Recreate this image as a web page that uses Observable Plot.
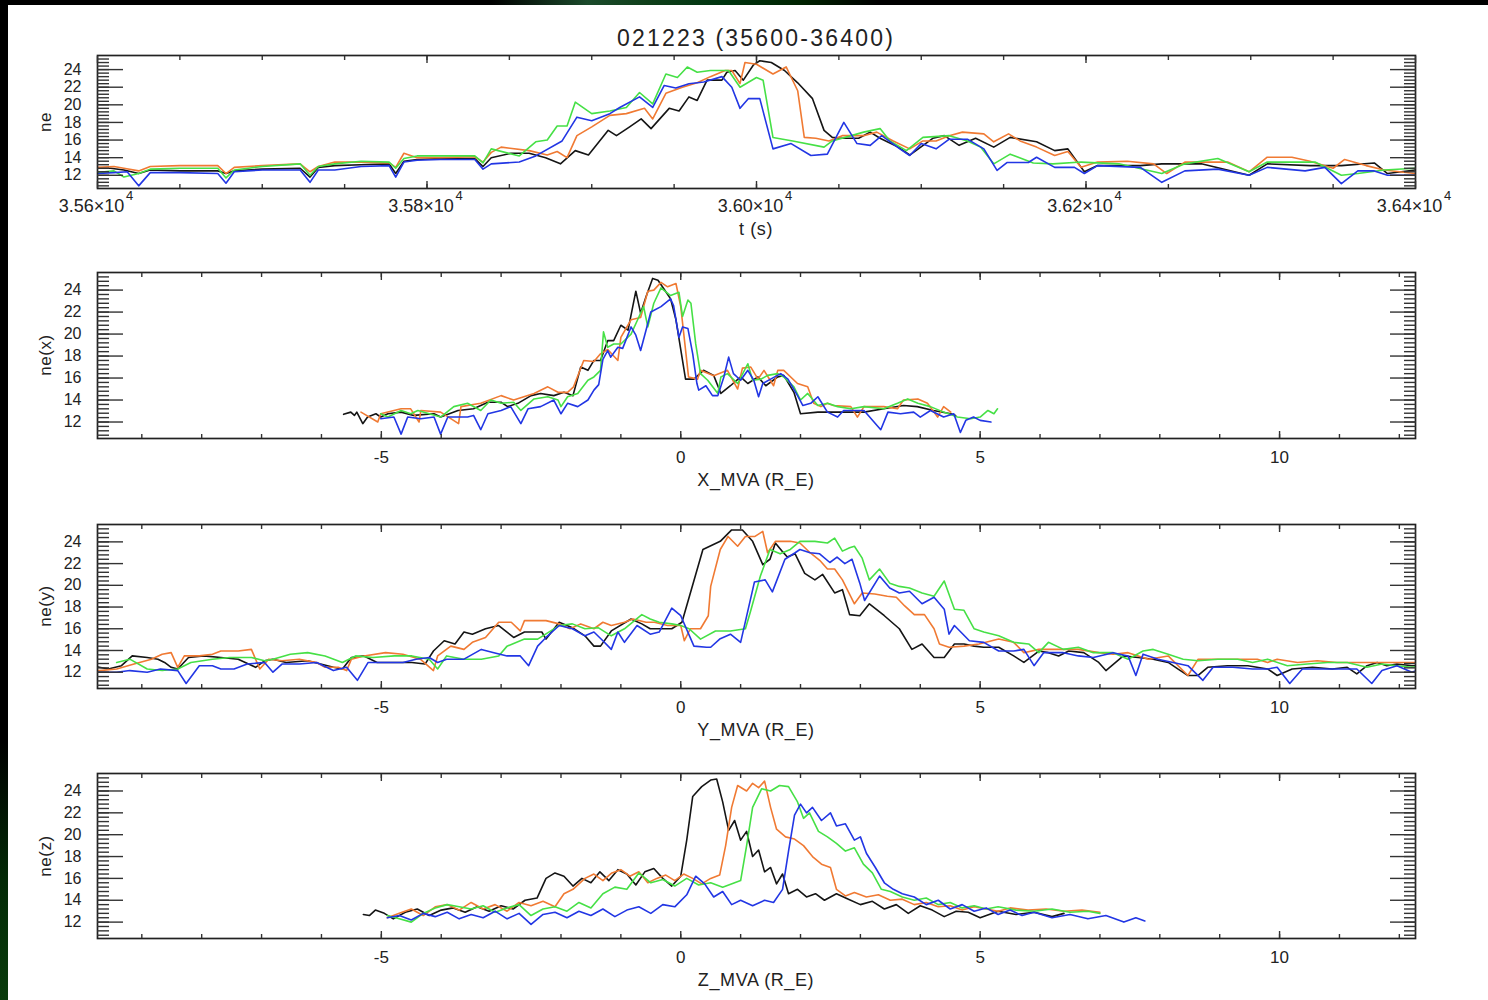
<!DOCTYPE html>
<html><head><meta charset="utf-8">
<script src="https://cdn.jsdelivr.net/npm/d3@7"></script>
<script src="https://cdn.jsdelivr.net/npm/@observablehq/plot@0.6"></script>
<style>
html,body{margin:0;padding:0;background:#fff;}
body{width:1488px;height:1000px;position:relative;overflow:hidden;font-family:"Liberation Sans",Arial,Helvetica,sans-serif;color:#222;}
#topband{position:absolute;left:0;top:0;width:1488px;height:5px;
 background:linear-gradient(to right,#000 0%,#000 33%,#1b4a2b 39.5%,#0f3f1a 43.5%,#003510 48.5%,#002200 54%,#000 59%,#000 100%);}
#leftband{position:absolute;left:0;top:0;width:8px;height:1000px;
 background:linear-gradient(to bottom,#000 0%,#000 74%,#032a06 88%,#0a3c0c 100%);}
.panel{position:absolute;left:0;}
.xt{position:absolute;transform:translate(-50%,-50%);white-space:nowrap;font-size:18px;letter-spacing:0.6px;}
.yt{position:absolute;transform:translate(-50%,-50%) rotate(-90deg);white-space:nowrap;font-size:17px;letter-spacing:0.6px;}
#title{position:absolute;left:756px;top:38px;transform:translate(-50%,-50%);font-size:23px;letter-spacing:2.2px;white-space:nowrap;}
</style></head>
<body>
<div id="topband"></div><div id="leftband"></div>
<div id="title">021223 (35600-36400)</div>
<script>
// ---------- tick values / labels ----------
const yMajor = [12, 14, 16, 18, 20, 22, 24];
const yDomain = [10.5, 25.6];
const tMajor = [35600, 35800, 36000, 36200, 36400];
const tLabels = ["3.56×10", "3.58×10", "3.60×10", "3.62×10", "3.64×10"];
const tExponent = "4";
const mvaMajor = [-5, 0, 5, 10];
const mvaLabels = ["-5", "0", "5", "10"];
const mvaDomain = [-9.74, 12.27];
const tDomain = [35600, 36400];
const panelTitles = ["ne", "ne(x)", "ne(y)", "ne(z)"];
const axisTitles = ["t (s)", "X_MVA (R_E)", "Y_MVA (R_E)", "Z_MVA (R_E)"];
const spacecraftColors = ["#151515", "#f07a33", "#46e046", "#2236e4"];

// ---------- panel 1: ne vs t ----------
const p1Black = [[35600,12.8],[35608,12.8],[35616,12.6],[35625,12.2],[35632,12.6],[35650,12.5],[35673,12.5],[35678,12.2],[35683,12.5],[35700,12.7],[35723,12.8],[35729,11.8],[35734,12.9],[35744,13.1],[35760,13.2],[35777,13.3],[35781,12.2],[35786,13.6],[35794,13.8],[35808,13.9],[35829,13.9],[35834,13.0],[35839,14.0],[35851,14.5],[35862,14.5],[35872,14.0],[35881,13.3],[35890,14.8],[35898,14.3],[35910,17.1],[35915,16.5],[35923,17.5],[35930,18.4],[35936,17.3],[35947,19.6],[35953,19.3],[35959,20.9],[35964,20.5],[35970,22.8],[35979,22.8],[35982,23.7],[35987,23.9],[35992,22.8],[35998,24.5],[36002,25.0],[36009,24.8],[36017,23.9],[36025,22.5],[36034,20.7],[36041,17.1],[36046,16.3],[36051,16.2],[36062,16.2],[36069,16.9],[36075,16.2],[36086,15.2],[36093,14.3],[36107,16.2],[36114,16.5],[36123,15.4],[36133,16.2],[36144,15.2],[36154,16.3],[36170,15.8],[36181,14.8],[36189,15.0],[36199,12.4],[36207,13.1],[36233,13.1],[36246,13.3],[36270,13.3],[36299,12.0],[36310,13.3],[36336,13.1],[36355,13.1],[36375,13.4],[36383,12.2],[36400,12.6]];
const p1Orange = [[35600,12.9],[35610,13.0],[35616,12.8],[35625,12.5],[35632,13.0],[35650,13.1],[35673,13.1],[35678,12.2],[35683,12.9],[35700,13.1],[35723,13.3],[35729,12.4],[35734,13.0],[35744,13.5],[35760,13.5],[35777,13.4],[35781,12.9],[35786,14.5],[35794,14.0],[35808,14.0],[35829,14.1],[35834,13.5],[35839,14.6],[35845,15.2],[35862,14.8],[35873,14.3],[35879,14.7],[35885,14.0],[35891,16.5],[35900,17.5],[35911,18.8],[35921,19.0],[35932,19.6],[35937,18.4],[35945,21.3],[35955,22.0],[35964,22.5],[35972,23.2],[35981,23.9],[35985,23.9],[35990,22.4],[35993,24.8],[36000,24.6],[36010,23.5],[36018,24.3],[36025,21.6],[36029,16.3],[36036,16.2],[36044,15.9],[36052,16.5],[36065,16.5],[36073,16.9],[36083,15.9],[36093,15.0],[36101,15.9],[36109,15.9],[36117,16.5],[36125,16.9],[36138,16.7],[36144,15.8],[36153,16.7],[36160,15.9],[36170,15.2],[36181,14.25],[36189,14.7],[36197,12.9],[36207,13.5],[36225,13.6],[36241,13.3],[36249,12.2],[36260,13.5],[36286,13.5],[36299,12.4],[36310,14.05],[36325,14.05],[36336,13.6],[36350,12.8],[36357,13.8],[36370,13.1],[36381,12.6],[36400,12.2]];
const p1Green = [[35600,12.3],[35610,12.5],[35616,11.8],[35625,12.2],[35632,12.7],[35650,12.8],[35673,12.8],[35678,11.7],[35683,12.6],[35700,13.0],[35723,13.3],[35729,12.0],[35734,13.0],[35744,13.3],[35760,13.6],[35777,13.5],[35781,12.8],[35786,13.9],[35794,14.2],[35808,14.2],[35829,14.2],[35834,13.4],[35839,15.0],[35856,14.2],[35866,15.8],[35873,16.0],[35879,17.6],[35885,17.6],[35890,20.3],[35900,19.0],[35911,19.3],[35921,19.7],[35929,21.4],[35937,20.1],[35945,23.5],[35952,23.1],[35958,24.3],[35964,23.7],[35972,23.9],[35983,23.9],[35990,22.0],[36000,23.1],[36004,22.8],[36010,16.3],[36022,15.9],[36041,15.2],[36046,15.9],[36065,16.9],[36075,17.3],[36081,15.9],[36091,14.8],[36101,16.3],[36117,16.5],[36128,15.9],[36136,15.2],[36144,13.3],[36154,14.4],[36168,13.4],[36180,13.3],[36197,13.5],[36220,13.3],[36246,12.2],[36260,13.3],[36280,13.9],[36299,12.4],[36310,13.5],[36339,13.5],[36355,12.0],[36365,12.2],[36381,12.6],[36400,12.8]];
const p1Blue = [[35600,12.2],[35610,12.3],[35618,12.4],[35625,10.8],[35632,12.3],[35650,12.3],[35673,12.2],[35678,11.1],[35683,12.4],[35700,12.6],[35723,12.6],[35729,11.2],[35734,12.6],[35744,12.6],[35760,13.0],[35777,13.1],[35781,11.8],[35786,13.5],[35794,13.7],[35808,13.8],[35829,13.8],[35834,12.7],[35839,13.3],[35856,13.5],[35866,14.2],[35882,15.9],[35891,18.6],[35900,18.2],[35911,19.0],[35917,19.7],[35929,20.9],[35937,19.7],[35944,22.2],[35951,21.9],[35959,22.4],[35968,22.6],[35979,23.2],[35985,22.0],[35990,19.6],[35995,20.7],[36002,20.7],[36010,15.0],[36021,15.6],[36033,14.25],[36043,14.4],[36053,18.0],[36061,15.6],[36069,15.4],[36076,16.5],[36087,15.0],[36093,14.25],[36100,15.6],[36109,15.0],[36117,16.1],[36128,16.1],[36138,15.0],[36146,12.55],[36152,13.45],[36165,13.45],[36170,14.05],[36181,12.9],[36193,12.9],[36199,12.2],[36207,13.1],[36233,12.9],[36246,11.2],[36260,12.5],[36280,12.7],[36299,12.0],[36310,12.9],[36333,12.5],[36345,12.9],[36355,11.05],[36365,12.5],[36375,12.5],[36383,12.0],[36400,12.0]];

// ---------- panel 2: ne vs X_MVA ----------
const p2Black = [[-5.63,12.7],[-5.51,12.9],[-5.45,12.6],[-5.41,12.9],[-5.31,11.85],[-5.23,12.45],[-5.09,12.75],[-5.01,12.45],[-4.89,12.75],[-4.67,12.9],[-4.46,12.6],[-4.12,12.75],[-4.01,12.45],[-3.72,13.05],[-3.46,13.2],[-3.22,13.8],[-3.0,13.8],[-2.89,13.4],[-2.72,13.7],[-2.5,14.4],[-2.34,14.6],[-2.12,14.4],[-1.95,14.7],[-1.8,14.4],[-1.67,17.0],[-1.55,16.7],[-1.45,17.6],[-1.34,17.6],[-1.22,19.4],[-1.12,19.4],[-1.0,20.8],[-0.88,20.35],[-0.75,23.9],[-0.67,21.9],[-0.58,23.4],[-0.47,25.06],[-0.38,24.9],[-0.28,24.1],[-0.17,23.2],[-0.08,21.3],[0.08,15.9],[0.22,15.9],[0.38,16.7],[0.55,16.24],[0.67,14.6],[0.83,15.3],[1.0,16.1],[1.12,15.5],[1.29,16.1],[1.42,15.3],[1.62,16.1],[1.72,16.24],[1.89,14.7],[2.0,12.75],[2.29,12.9],[2.67,12.9],[3.06,12.9],[3.39,13.2],[3.72,13.5],[3.95,13.4],[4.22,13.05],[4.51,12.75],[4.59,12.6]];
const p2Orange = [[-5.34,12.9],[-5.06,12.0],[-5.01,12.75],[-4.67,13.2],[-4.51,13.2],[-4.37,12.0],[-4.34,13.05],[-4.01,12.9],[-3.71,11.85],[-3.67,13.4],[-3.34,13.7],[-3.0,14.4],[-2.79,14.0],[-2.45,14.6],[-2.22,15.2],[-2.05,14.7],[-1.89,14.7],[-1.79,15.2],[-1.62,17.6],[-1.45,17.5],[-1.34,18.2],[-1.22,18.6],[-1.05,17.6],[-1.0,19.7],[-0.83,21.3],[-0.67,21.5],[-0.55,23.9],[-0.45,24.0],[-0.33,24.7],[-0.22,24.3],[-0.08,24.6],[0.0,22.5],[0.13,16.1],[0.28,15.9],[0.33,16.7],[0.55,16.2],[0.78,16.7],[0.95,15.0],[1.03,16.9],[1.17,17.0],[1.29,15.9],[1.39,16.7],[1.55,15.3],[1.62,16.7],[1.72,16.7],[1.95,15.5],[2.12,15.2],[2.22,13.7],[2.34,13.4],[2.45,13.7],[2.55,13.5],[2.84,13.4],[2.95,12.45],[3.06,13.4],[3.39,13.4],[3.62,13.2],[3.72,14.0],[3.96,14.1],[4.12,13.7],[4.29,12.45],[4.39,13.4],[4.51,12.9]];
const p2Green = [[-5.01,12.75],[-4.89,12.45],[-4.67,13.05],[-4.51,12.75],[-4.39,13.05],[-4.01,12.45],[-3.79,13.4],[-3.56,13.7],[-3.34,13.05],[-3.17,14.0],[-3.0,13.7],[-2.79,13.8],[-2.67,13.05],[-2.45,14.1],[-2.22,14.3],[-2.05,14.0],[-2.0,13.4],[-1.89,14.3],[-1.72,14.6],[-1.55,15.8],[-1.45,16.1],[-1.34,16.7],[-1.29,20.2],[-1.22,18.8],[-1.12,19.1],[-1.0,19.1],[-0.83,20.0],[-0.72,21.3],[-0.62,22.5],[-0.55,20.65],[-0.45,22.8],[-0.33,24.2],[-0.17,23.5],[-0.03,23.8],[0.03,21.6],[0.12,23.1],[0.17,22.8],[0.25,19.1],[0.33,16.4],[0.45,15.8],[0.62,14.6],[0.67,16.1],[0.78,16.4],[0.95,15.5],[1.12,17.3],[1.2,15.8],[1.34,15.9],[1.45,16.24],[1.62,16.4],[1.72,16.1],[1.89,15.2],[2.0,14.0],[2.12,14.6],[2.29,13.5],[2.45,13.7],[2.62,13.4],[2.84,13.2],[3.06,13.4],[3.39,13.2],[3.62,13.7],[3.79,14.1],[3.96,13.7],[4.17,13.4],[4.39,12.9],[4.62,12.45],[4.84,12.3],[5.0,12.45],[5.13,13.05],[5.23,12.75],[5.29,13.2]];
const p2Blue = [[-5.01,12.3],[-4.79,12.45],[-4.67,10.9],[-4.56,12.45],[-4.34,12.3],[-4.12,12.45],[-4.01,10.9],[-3.89,12.45],[-3.56,12.45],[-3.46,12.6],[-3.34,11.3],[-3.22,12.75],[-3.0,13.05],[-2.84,13.4],[-2.67,11.85],[-2.55,13.2],[-2.34,13.4],[-2.12,14.0],[-2.0,12.75],[-1.89,13.7],[-1.72,13.4],[-1.55,14.0],[-1.45,14.9],[-1.37,15.4],[-1.3,17.7],[-1.22,18.5],[-1.17,17.9],[-1.05,18.8],[-0.97,18.7],[-0.83,20.65],[-0.75,19.9],[-0.67,18.5],[-0.58,20.35],[-0.5,22.0],[-0.33,22.5],[-0.17,23.2],[-0.12,22.6],[-0.03,19.7],[0.03,20.65],[0.12,20.5],[0.2,18.2],[0.27,15.5],[0.3,14.9],[0.42,15.3],[0.53,14.4],[0.62,14.4],[0.72,16.1],[0.8,17.9],[0.88,16.4],[1.0,15.8],[1.12,16.7],[1.22,15.8],[1.3,14.3],[1.37,15.5],[1.5,15.9],[1.67,16.4],[1.79,15.9],[1.95,14.4],[2.04,13.5],[2.17,13.7],[2.29,14.3],[2.45,12.9],[2.62,12.45],[2.72,13.05],[3.06,13.05],[3.34,11.3],[3.46,12.9],[3.67,12.75],[3.89,12.9],[4.0,12.45],[4.17,13.05],[4.39,12.45],[4.56,12.75],[4.67,11.05],[4.76,12.15],[4.89,12.45],[5.0,12.15],[5.18,12.0]];

// ---------- panel 3: ne vs Y_MVA ----------
const p3Black = [[-9.85,12.6],[-9.71,12.45],[-9.56,12.3],[-9.34,12.6],[-9.16,13.5],[-8.91,13.35],[-8.73,13.2],[-8.62,12.9],[-8.51,12.45],[-8.4,12.3],[-8.22,13.35],[-7.97,13.5],[-7.68,13.35],[-7.39,13.2],[-7.1,12.45],[-6.95,13.05],[-6.81,13.2],[-6.59,12.9],[-6.23,13.05],[-5.8,12.45],[-5.65,12.3],[-5.5,13.35],[-5.29,13.5],[-5.07,12.9],[-4.78,12.9],[-4.49,12.9],[-4.27,12.75],[-4.13,13.95],[-3.95,14.9],[-3.77,14.6],[-3.62,15.7],[-3.48,15.5],[-3.26,16.0],[-3.04,16.3],[-2.79,15.2],[-2.61,15.7],[-2.32,15.7],[-2.25,15.05],[-2.03,16.6],[-1.81,16.1],[-1.6,15.35],[-1.45,14.4],[-1.34,14.4],[-1.16,15.8],[-0.83,16.9],[-0.65,16.45],[-0.51,16.0],[-0.15,16.0],[0.02,16.6],[0.37,23.3],[0.66,24.05],[0.85,25.1],[1.03,25.1],[1.2,24.05],[1.37,21.9],[1.49,22.4],[1.58,23.9],[1.7,23.1],[1.78,22.6],[1.91,22.9],[2.07,21.1],[2.24,20.5],[2.37,21.0],[2.57,19.3],[2.7,19.6],[2.82,17.3],[2.99,17.2],[3.15,18.3],[3.4,17.2],[3.65,16.0],[3.86,14.1],[4.03,14.6],[4.23,13.35],[4.4,13.35],[4.57,14.6],[4.73,14.6],[4.9,14.4],[5.06,14.3],[5.31,14.3],[5.56,13.5],[5.73,12.9],[5.98,13.95],[6.14,13.8],[6.31,13.5],[6.48,13.95],[6.73,13.8],[6.98,12.9],[7.1,12.15],[7.39,13.5],[7.64,13.35],[7.89,13.2],[8.14,12.9],[8.3,12.3],[8.47,11.7],[8.64,11.7],[8.8,12.45],[9.13,12.6],[9.47,12.6],[9.8,12.3],[9.96,11.7],[10.21,12.3],[10.55,12.45],[10.88,12.3],[11.13,12.45],[11.29,11.85],[11.46,12.6],[11.63,12.9],[11.79,12.6],[11.96,12.75],[12.21,12.6],[12.35,12.6]];
const p3Orange = [[-9.85,12.2],[-9.71,12.15],[-9.42,12.3],[-9.13,12.75],[-8.84,13.2],[-8.66,13.66],[-8.51,13.8],[-8.4,12.45],[-8.29,13.5],[-8.04,13.5],[-7.82,13.66],[-7.68,13.95],[-7.39,13.95],[-7.17,14.1],[-7.03,12.3],[-6.88,13.2],[-6.66,13.05],[-6.37,13.2],[-6.08,12.9],[-5.94,12.45],[-5.72,12.45],[-5.58,12.15],[-5.5,13.2],[-5.29,13.5],[-4.93,13.8],[-4.64,13.66],[-4.35,13.2],[-4.13,12.15],[-4.06,13.5],[-3.84,14.4],[-3.62,14.1],[-3.48,14.75],[-3.26,15.2],[-3.04,16.6],[-2.83,16.6],[-2.68,15.8],[-2.61,16.75],[-2.25,16.75],[-2.03,16.45],[-1.85,16.0],[-1.67,16.45],[-1.45,16.0],[-1.3,16.6],[-1.16,16.3],[-0.94,16.6],[-0.8,16.9],[-0.58,16.6],[-0.44,16.6],[-0.22,16.3],[0.0,16.3],[0.06,14.9],[0.16,16.0],[0.33,16.0],[0.46,17.2],[0.5,19.9],[0.66,23.3],[0.79,24.5],[0.95,23.6],[1.08,24.5],[1.24,24.5],[1.37,24.96],[1.45,23.0],[1.58,24.05],[1.83,24.05],[1.99,23.9],[2.16,23.0],[2.32,22.3],[2.45,21.5],[2.57,21.5],[2.7,20.5],[2.9,18.3],[3.03,19.3],[3.24,19.2],[3.45,19.0],[3.6,18.9],[3.74,18.1],[3.9,17.3],[4.07,17.3],[4.23,16.0],[4.32,14.6],[4.48,14.3],[4.73,14.4],[4.98,14.6],[5.31,15.05],[5.56,14.75],[5.73,13.8],[5.98,14.1],[6.31,14.1],[6.64,14.1],[6.98,13.8],[7.22,13.66],[7.47,13.8],[7.81,13.2],[8.14,13.5],[8.47,11.7],[8.64,13.2],[8.97,13.2],[9.3,13.2],[9.63,13.2],[9.8,12.9],[9.96,13.2],[10.3,12.9],[10.63,13.05],[10.96,12.9],[11.29,12.9],[11.63,12.9],[11.96,12.9],[12.21,12.9],[12.35,12.9]];
const p3Green = [[-9.42,12.9],[-9.2,13.2],[-8.91,12.3],[-8.66,12.15],[-8.4,12.3],[-8.18,12.9],[-7.82,13.2],[-7.53,13.35],[-7.17,13.35],[-6.95,13.05],[-6.81,13.2],[-6.52,13.66],[-6.23,13.8],[-5.94,13.5],[-5.65,12.9],[-5.43,13.5],[-5.14,13.35],[-4.78,13.5],[-4.49,13.5],[-4.2,13.2],[-4.06,12.3],[-3.91,13.5],[-3.62,13.2],[-3.33,13.2],[-3.04,13.5],[-2.9,14.4],[-2.61,15.05],[-2.39,15.05],[-2.17,15.8],[-2.03,16.3],[-1.81,16.45],[-1.6,16.0],[-1.38,16.1],[-1.16,15.35],[-0.94,16.0],[-0.65,17.3],[-0.51,16.9],[-0.36,16.6],[-0.15,16.45],[0.0,16.3],[0.14,16.0],[0.33,15.05],[0.58,15.8],[0.83,15.8],[1.08,16.0],[1.16,17.5],[1.33,20.85],[1.49,23.3],[1.66,22.9],[1.83,23.3],[1.99,24.05],[2.24,24.05],[2.45,23.9],[2.57,24.35],[2.7,23.15],[2.82,23.45],[2.9,23.6],[3.03,22.5],[3.15,20.5],[3.32,21.5],[3.49,20.2],[3.65,19.9],[3.82,19.75],[4.03,19.3],[4.23,19.0],[4.4,20.4],[4.57,17.8],[4.73,17.7],[4.9,16.0],[5.06,15.7],[5.31,15.35],[5.56,14.75],[5.81,14.6],[5.98,13.8],[6.14,14.75],[6.39,14.1],[6.64,14.3],[6.89,13.8],[7.22,13.8],[7.47,13.2],[7.72,13.95],[7.89,14.1],[8.14,13.66],[8.39,13.2],[8.64,13.05],[8.97,13.2],[9.3,13.2],[9.55,12.9],[9.8,13.2],[10.13,12.6],[10.46,12.75],[10.8,12.9],[11.13,12.9],[11.46,12.45],[11.71,12.75],[11.96,12.6],[12.21,12.45],[12.35,12.6]];
const p3Blue = [[-9.85,12.0],[-9.71,12.0],[-9.42,12.0],[-9.2,12.15],[-8.91,12.0],[-8.69,12.3],[-8.4,12.15],[-8.26,10.96],[-8.04,12.6],[-7.82,12.6],[-7.68,12.3],[-7.46,12.3],[-7.24,12.75],[-6.95,12.9],[-6.81,12.0],[-6.66,12.75],[-6.37,12.75],[-6.08,12.9],[-5.8,12.15],[-5.58,12.45],[-5.4,11.25],[-5.22,12.9],[-4.78,12.9],[-4.64,12.9],[-4.42,13.2],[-4.2,13.35],[-4.06,12.9],[-3.91,13.2],[-3.62,13.2],[-3.33,14.1],[-3.12,13.8],[-2.9,13.5],[-2.68,13.5],[-2.54,12.6],[-2.39,14.4],[-2.25,15.2],[-2.03,16.3],[-1.81,16.0],[-1.6,15.35],[-1.45,15.7],[-1.3,14.9],[-1.16,14.1],[-1.05,15.7],[-0.94,14.75],[-0.73,16.3],[-0.51,15.5],[-0.36,15.7],[-0.15,17.9],[0.0,17.2],[0.22,14.4],[0.43,14.3],[0.5,14.3],[0.65,15.05],[0.83,15.5],[1.0,14.75],[1.23,20.3],[1.41,20.5],[1.53,19.4],[1.74,22.4],[1.91,23.0],[1.99,23.3],[2.16,23.0],[2.32,22.9],[2.49,22.1],[2.61,22.6],[2.74,22.0],[2.86,22.4],[2.99,20.2],[3.07,18.6],[3.32,20.85],[3.49,19.75],[3.65,19.3],[3.82,19.45],[4.03,18.3],[4.23,18.9],[4.4,17.8],[4.48,15.5],[4.57,16.3],[4.82,14.9],[5.06,14.75],[5.31,13.95],[5.56,13.95],[5.73,14.1],[5.9,12.6],[6.06,13.8],[6.39,13.8],[6.64,13.5],[6.89,13.35],[7.22,13.8],[7.47,13.5],[7.6,11.7],[7.72,13.66],[7.97,13.2],[8.22,12.9],[8.47,12.6],[8.72,11.25],[8.89,12.45],[9.22,12.45],[9.55,12.3],[9.8,12.3],[9.96,12.45],[10.17,10.96],[10.38,12.3],[10.71,12.3],[11.05,12.3],[11.29,12.3],[11.54,10.96],[11.71,12.15],[11.96,12.6],[12.21,12.0],[12.35,12.3]];

// ---------- panel 4: ne vs Z_MVA ----------
const p4Black = [[-5.3,12.7],[-5.2,12.6],[-5.1,13.1],[-4.95,12.8],[-4.8,12.3],[-4.6,12.9],[-4.4,13.2],[-4.2,12.6],[-4.0,13.1],[-3.8,13.3],[-3.6,12.9],[-3.4,13.4],[-3.2,13.0],[-3.0,13.5],[-2.8,13.2],[-2.6,14.0],[-2.4,14.2],[-2.25,16.0],[-2.1,16.5],[-1.95,16.2],[-1.8,15.3],[-1.65,16.0],[-1.5,15.6],[-1.35,16.6],[-1.2,15.8],[-1.05,16.8],[-0.9,16.4],[-0.75,15.4],[-0.6,16.6],[-0.45,16.9],[-0.3,16.0],[-0.15,15.3],[0.0,16.2],[0.1,19.5],[0.2,23.5],[0.35,24.4],[0.5,25.0],[0.6,25.1],[0.7,23.0],[0.8,20.4],[0.9,21.3],[1.0,19.5],[1.1,20.3],[1.2,18.0],[1.3,18.6],[1.4,16.6],[1.5,17.0],[1.6,15.5],[1.7,16.4],[1.8,14.6],[1.95,15.0],[2.1,14.3],[2.25,14.6],[2.4,14.0],[2.6,14.6],[2.8,14.1],[3.0,13.6],[3.2,13.9],[3.4,13.2],[3.6,13.6],[3.8,12.8],[4.0,13.5],[4.2,13.1],[4.4,12.5],[4.6,13.0],[4.8,12.9],[5.0,12.4],[5.3,13.0],[5.6,12.7],[5.9,12.9],[6.2,12.5],[6.4,12.8]];
const p4Orange = [[-4.9,12.4],[-4.7,12.8],[-4.5,13.2],[-4.3,12.6],[-4.1,13.4],[-3.9,13.6],[-3.7,13.1],[-3.5,13.8],[-3.3,13.2],[-3.1,13.6],[-2.9,13.0],[-2.7,13.8],[-2.5,13.5],[-2.3,13.9],[-2.1,13.4],[-1.95,14.6],[-1.8,15.0],[-1.6,16.0],[-1.45,16.4],[-1.3,15.8],[-1.15,16.5],[-1.0,16.8],[-0.85,16.2],[-0.7,16.6],[-0.55,15.6],[-0.4,16.0],[-0.25,16.3],[-0.1,15.8],[0.05,16.4],[0.2,16.0],[0.35,15.5],[0.5,16.0],[0.65,16.3],[0.75,19.0],[0.85,22.5],[0.95,24.5],[1.1,24.0],[1.2,24.7],[1.3,24.3],[1.4,24.9],[1.5,22.5],[1.6,20.5],[1.75,19.8],[1.9,19.6],[2.05,19.0],[2.2,18.0],[2.35,17.3],[2.5,17.0],[2.6,15.0],[2.75,14.4],[2.9,14.7],[3.1,14.3],[3.3,14.5],[3.5,14.0],[3.7,14.1],[3.9,13.6],[4.1,13.8],[4.3,13.4],[4.5,13.5],[4.7,13.1],[4.9,13.4],[5.1,13.2],[5.3,13.0],[5.5,13.3],[5.8,13.1],[6.1,13.2],[6.4,13.0],[6.7,13.1],[7.0,12.9]];
const p4Green = [[-4.9,12.6],[-4.7,12.3],[-4.5,12.0],[-4.3,12.8],[-4.1,13.3],[-3.9,13.6],[-3.7,13.4],[-3.5,13.2],[-3.3,13.5],[-3.1,12.9],[-2.9,13.3],[-2.7,13.6],[-2.5,12.6],[-2.3,13.2],[-2.1,13.4],[-1.9,13.0],[-1.7,13.8],[-1.5,13.3],[-1.3,14.6],[-1.1,15.2],[-0.9,15.0],[-0.7,16.5],[-0.5,15.6],[-0.3,15.9],[-0.1,15.3],[0.1,16.0],[0.3,15.4],[0.5,15.6],[0.7,15.2],[0.9,15.6],[1.0,15.8],[1.1,19.0],[1.2,22.5],[1.35,24.2],[1.5,24.0],[1.65,24.5],[1.8,24.4],[1.95,23.0],[2.05,21.5],[2.15,22.0],[2.3,20.3],[2.45,19.8],[2.6,19.2],[2.75,18.5],[2.9,18.8],[3.05,17.3],[3.2,16.5],[3.35,15.0],[3.5,14.8],[3.7,14.3],[3.9,14.0],[4.1,14.2],[4.3,13.6],[4.5,13.8],[4.7,13.3],[4.9,13.5],[5.1,13.2],[5.3,13.4],[5.6,13.1],[5.9,13.0],[6.2,13.2],[6.5,12.9],[6.8,13.0],[7.0,12.8]];
const p4Blue = [[-4.9,12.4],[-4.7,12.6],[-4.5,12.2],[-4.3,12.8],[-4.1,12.5],[-3.9,12.9],[-3.7,12.3],[-3.5,12.7],[-3.3,12.4],[-3.1,13.0],[-2.9,12.3],[-2.7,12.8],[-2.5,11.8],[-2.3,12.7],[-2.1,12.9],[-1.9,12.4],[-1.7,13.0],[-1.5,12.6],[-1.3,13.2],[-1.1,12.5],[-0.9,13.1],[-0.7,13.4],[-0.5,12.8],[-0.3,13.6],[-0.1,13.4],[0.1,14.5],[0.25,16.2],[0.4,15.5],[0.55,14.3],[0.7,14.8],[0.85,13.6],[1.0,14.0],[1.2,13.5],[1.4,14.0],[1.55,13.8],[1.7,15.0],[1.8,18.5],[1.9,21.8],[2.0,22.8],[2.1,22.0],[2.2,22.5],[2.35,21.3],[2.5,22.0],[2.6,20.8],[2.75,21.0],[2.9,19.5],[3.0,19.8],[3.1,18.3],[3.25,17.0],[3.4,15.6],[3.55,15.0],[3.7,14.6],[3.9,14.3],[4.1,13.6],[4.3,14.0],[4.5,13.2],[4.7,13.6],[4.9,13.0],[5.1,13.3],[5.3,12.7],[5.5,13.1],[5.7,12.6],[5.9,12.9],[6.2,12.4],[6.5,12.7],[6.8,12.3],[7.1,12.6],[7.4,12.0],[7.6,12.4],[7.75,12.1]];

// ---------- drawing ----------
const yMinor = d3.range(10.8, 25.5, 0.4).map(v => +v.toFixed(1));
const tMinor = d3.range(35650, 36400, 50);
const mvaMinor = d3.range(-9, 13, 1);

const frames = [
  {top: 55, bottom: 188, series: [p1Black, p1Orange, p1Green, p1Blue], xDomain: tDomain, xMajor: tMajor, xMinor: tMinor, xLabels: tLabels, exponent: true, labelPad: 11},
  {top: 272, bottom: 438, series: [p2Black, p2Orange, p2Green, p2Blue], xDomain: mvaDomain, xMajor: mvaMajor, xMinor: mvaMinor, xLabels: mvaLabels, exponent: false, labelPad: 12},
  {top: 524, bottom: 688, series: [p3Black, p3Orange, p3Green, p3Blue], xDomain: mvaDomain, xMajor: mvaMajor, xMinor: mvaMinor, xLabels: mvaLabels, exponent: false, labelPad: 12},
  {top: 773, bottom: 938, series: [p4Black, p4Orange, p4Green, p4Blue], xDomain: mvaDomain, xMajor: mvaMajor, xMinor: mvaMinor, xLabels: mvaLabels, exponent: false, labelPad: 12}
];

const tickColor = "#333";
frames.forEach((f, k) => {
  const mt = 15, mb = 48;
  const labelMap = new Map(f.xMajor.map((v, i) => [v, f.xLabels[i]]));
  const axisCommon = {label: null, stroke: tickColor, strokeWidth: 1.4};
  const labelMarks = f.exponent ? [
    Plot.axisX({label: null, anchor: "bottom", ticks: f.xMajor, tickSize: 0, tickPadding: f.labelPad, fontSize: 18, dx: -6, tickFormat: d => labelMap.get(d)}),
    Plot.axisX({label: null, anchor: "bottom", ticks: f.xMajor, tickSize: 0, tickPadding: f.labelPad, fontSize: 13, dx: 32, dy: -9, tickFormat: () => tExponent})
  ] : [
    Plot.axisX({label: null, anchor: "bottom", ticks: f.xMajor, tickSize: 0, tickPadding: f.labelPad, fontSize: 17, tickFormat: d => labelMap.get(d)})
  ];
  const svg = Plot.plot({
    width: 1488,
    height: (f.bottom - f.top) + mt + mb,
    marginLeft: 97, marginRight: 73, marginTop: mt, marginBottom: mb,
    x: {domain: f.xDomain},
    y: {domain: yDomain},
    style: {fontFamily: '"Liberation Sans", Arial, Helvetica, sans-serif', fontSize: "16px", color: "#222", background: "transparent", overflow: "visible"},
    marks: [
      ...f.series.map((s, i) => Plot.line(s, {x: d => d[0], y: d => d[1], stroke: spacecraftColors[i], strokeWidth: 1.6, clip: true})),
      Plot.frame({stroke: "#222", strokeWidth: 1.7}),
      // y ticks (inward, both sides)
      Plot.axisY({...axisCommon, anchor: "left", ticks: yMinor, tickSize: -12, tickFormat: () => ""}),
      Plot.axisY({...axisCommon, anchor: "left", ticks: yMajor, tickSize: -26, tickFormat: () => ""}),
      Plot.axisY({...axisCommon, anchor: "right", ticks: yMinor, tickSize: -12, tickFormat: () => ""}),
      Plot.axisY({...axisCommon, anchor: "right", ticks: yMajor, tickSize: -26, tickFormat: () => ""}),
      // y tick labels
      Plot.axisY({label: null, anchor: "left", ticks: yMajor, tickSize: 0, tickPadding: 16, fontSize: 16, tickFormat: d => String(d)}),
      // x ticks (inward, bottom and top)
      Plot.axisX({...axisCommon, anchor: "bottom", ticks: f.xMinor, tickSize: -4, tickFormat: () => ""}),
      Plot.axisX({...axisCommon, anchor: "bottom", ticks: f.xMajor, tickSize: -7, tickFormat: () => ""}),
      Plot.axisX({...axisCommon, anchor: "top", ticks: f.xMinor, tickSize: -4, tickFormat: () => ""}),
      Plot.axisX({...axisCommon, anchor: "top", ticks: f.xMajor, tickSize: -7, tickFormat: () => ""}),
      // x tick labels
      ...labelMarks
    ]
  });
  svg.classList.add("panel");
  svg.style.top = (f.top - mt) + "px";
  document.body.appendChild(svg);

  const xt = document.createElement("div");
  xt.className = "xt";
  xt.textContent = axisTitles[k];
  xt.style.left = "756px";
  xt.style.top = (k === 0 ? f.bottom + 41 : f.bottom + 42) + "px";
  document.body.appendChild(xt);

  const yt = document.createElement("div");
  yt.className = "yt";
  yt.textContent = panelTitles[k];
  yt.style.left = "46px";
  yt.style.top = ((f.top + f.bottom) / 2) + "px";
  document.body.appendChild(yt);
});
</script>
</body></html>
